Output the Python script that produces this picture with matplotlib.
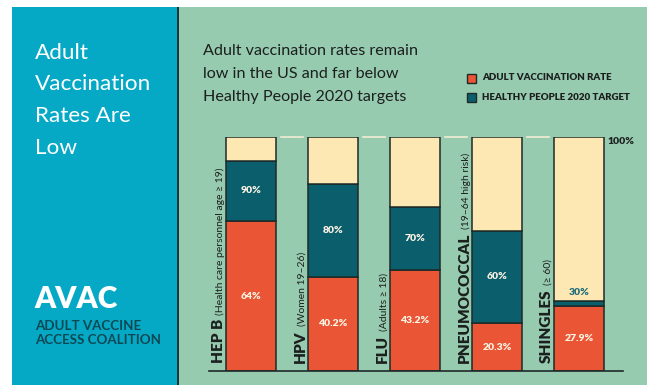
import matplotlib
matplotlib.use("Agg")
import matplotlib.pyplot as plt
from matplotlib.patches import Rectangle
import numpy as np

W, H = 647, 385

# ---- data ----
categories = ["HEP B", "HPV", "FLU", "PNEUMOCOCCAL", "SHINGLES"]
subtitles = ["(Health care personnel age \u2265 19)", "(Women 19\u201326)", "(Adults \u2265 18)",
             "(19\u201364 high risk)", "(\u2265 60)"]
rate = [64, 40.2, 43.2, 20.3, 27.9]
target = [90, 80, 70, 60, 30]
rate_labels = ["64%", "40.2%", "43.2%", "20.3%", "27.9%"]
target_labels = ["90%", "80%", "70%", "60%", "30%"]
legend_labels = ["ADULT VACCINATION RATE", "HEALTHY PEOPLE 2020 TARGET"]

C_TEAL_PANEL = "#05a9c6"
C_GREEN = "#97cbb0"
C_ORANGE = "#e95535"
C_DTEAL = "#0b5e6c"
C_BEIGE = "#fde7b3"
C_EDGE = "#1d2a29"
C_DARKTXT = "#1b1f1e"

FONT = "Lato"

fig = plt.figure(figsize=(W / 100, H / 100), dpi=100, facecolor="white")

def fx(px):
    return px / W

def fy(py):
    return 1 - py / H

# background panels
fig.add_artist(Rectangle((fx(12), 0), fx(177) - fx(12), fy(7), transform=fig.transFigure,
                         facecolor=C_TEAL_PANEL, edgecolor="none", zorder=0))
fig.add_artist(Rectangle((fx(179), 0), fx(647) - fx(179), fy(7), transform=fig.transFigure,
                         facecolor=C_GREEN, edgecolor="none", zorder=0))
fig.add_artist(Rectangle((fx(176.5), 0), fx(2.5), fy(7), transform=fig.transFigure,
                         facecolor="#123838", edgecolor="none", zorder=0))

# left panel text
for k, line in enumerate(["Adult", "Vaccination", "Rates Are", "Low"]):
    fig.text(fx(35), fy(59 + k * 31.5), line, color="white", fontsize=16.2,
             family=FONT, ha="left", va="baseline")
fig.text(fx(34), fy(308), "AVAC", color="white", fontsize=21.5, family=FONT, fontweight="heavy",
         ha="left", va="baseline")
fig.text(fx(35), fy(330), "ADULT VACCINE", color="#0c4853", fontsize=9.6,
         family=FONT, fontweight="bold", ha="left", va="baseline")
fig.text(fx(35), fy(344), "ACCESS COALITION", color="#0c4853", fontsize=9.6,
         family=FONT, fontweight="bold", ha="left", va="baseline")

# chart title
for k, line in enumerate(["Adult vaccination rates remain", "low in the US and far below",
                          "Healthy People 2020 targets"]):
    fig.text(fx(203), fy(55 + k * 23), line, color=C_DARKTXT, fontsize=11.6,
             family=FONT, ha="left", va="baseline")

# legend
for i, (lab, col) in enumerate(zip(legend_labels, [C_ORANGE, C_DTEAL])):
    cy = 78 + i * 19
    fig.add_artist(Rectangle((fx(467), fy(cy + 4.5)), fx(8.5), 9 / H, transform=fig.transFigure,
                             facecolor=col, edgecolor=C_EDGE, lw=1))
    fig.text(fx(482), fy(cy), lab, color=C_DARKTXT, fontsize=7, family=FONT, fontweight="heavy",
             ha="left", va="center")

# ---- bar axes ----
x0, x1 = 209, 623
ytop, ybot = 137.3, 370.7
spacing = 82
c0 = 251
ax = fig.add_axes([fx(x0), fy(ybot), fx(x1) - fx(x0), (ybot - ytop) / H])
ax.set_facecolor("none")
ax.set_xlim(-(c0 - x0) / spacing, (x1 - c0) / spacing)
ax.set_ylim(0, 100)
for s in ax.spines.values():
    s.set_visible(False)
ax.set_xticks([])
ax.set_yticks([])

x = np.arange(len(categories))
bw = 49.5 / spacing
rate_a = np.array(rate)
target_a = np.array(target)
kw = dict(width=bw, edgecolor=C_EDGE, linewidth=1.1, zorder=3)
ax.bar(x, rate_a, color=C_ORANGE, **kw)
ax.bar(x, target_a - rate_a, bottom=rate_a, color=C_DTEAL, **kw)
ax.bar(x, 100 - target_a, bottom=target_a, color=C_BEIGE, **kw)

# baseline
ax.axhline(0, color=C_EDGE, lw=1.2, zorder=4, clip_on=False)

# dashes between bars at 100%
for xi in x[:-1]:
    ax.plot([xi + 0.5 - 0.13, xi + 0.5 + 0.13], [100, 100], color="#f2ecd2", lw=1.2,
            clip_on=False, zorder=2)
ax.text(x[-1] + bw / 2 + 0.04, 100, "100%", color=C_DARKTXT, fontsize=7.5, family=FONT,
        fontweight="heavy", ha="left", va="top", clip_on=False)

# percent labels
for i in range(len(categories)):
    ax.text(x[i], rate_a[i] / 2, rate_labels[i], color="#fdf4e4", fontsize=7.5, family=FONT,
            fontweight="heavy", ha="center", va="center", zorder=5)
    if target_a[i] - rate_a[i] > 8:
        ax.text(x[i], (rate_a[i] + target_a[i]) / 2, target_labels[i], color="#fdf4e4",
                fontsize=7.5, family=FONT, fontweight="heavy", ha="center", va="center", zorder=5)
    else:
        ax.annotate(target_labels[i], (x[i], target_a[i]), xytext=(0, 3), textcoords="offset points",
                    color="#1d6b78", fontsize=7.5, family=FONT, fontweight="heavy",
                    ha="center", va="bottom", zorder=5)

# rotated category labels
fig.canvas.draw()
renderer = fig.canvas.get_renderer()
inv = ax.transData.inverted()
for i in range(len(categories)):
    bx = x[i] - bw / 2 - 0.045
    t1 = ax.text(bx, 3.3, categories[i], rotation=90, rotation_mode="anchor", ha="left",
                 va="baseline", fontsize=11, family=FONT, fontweight="heavy", color=C_DARKTXT,
                 clip_on=False)
    bb = t1.get_window_extent(renderer)
    ytop_data = inv.transform((0, bb.y1 + 4))[1]
    ax.text(bx, ytop_data, subtitles[i], rotation=90, rotation_mode="anchor", ha="left",
            va="baseline", fontsize=7.5, family=FONT, color=C_DARKTXT, clip_on=False)

fig.savefig("out.png", dpi=100, facecolor="white")
